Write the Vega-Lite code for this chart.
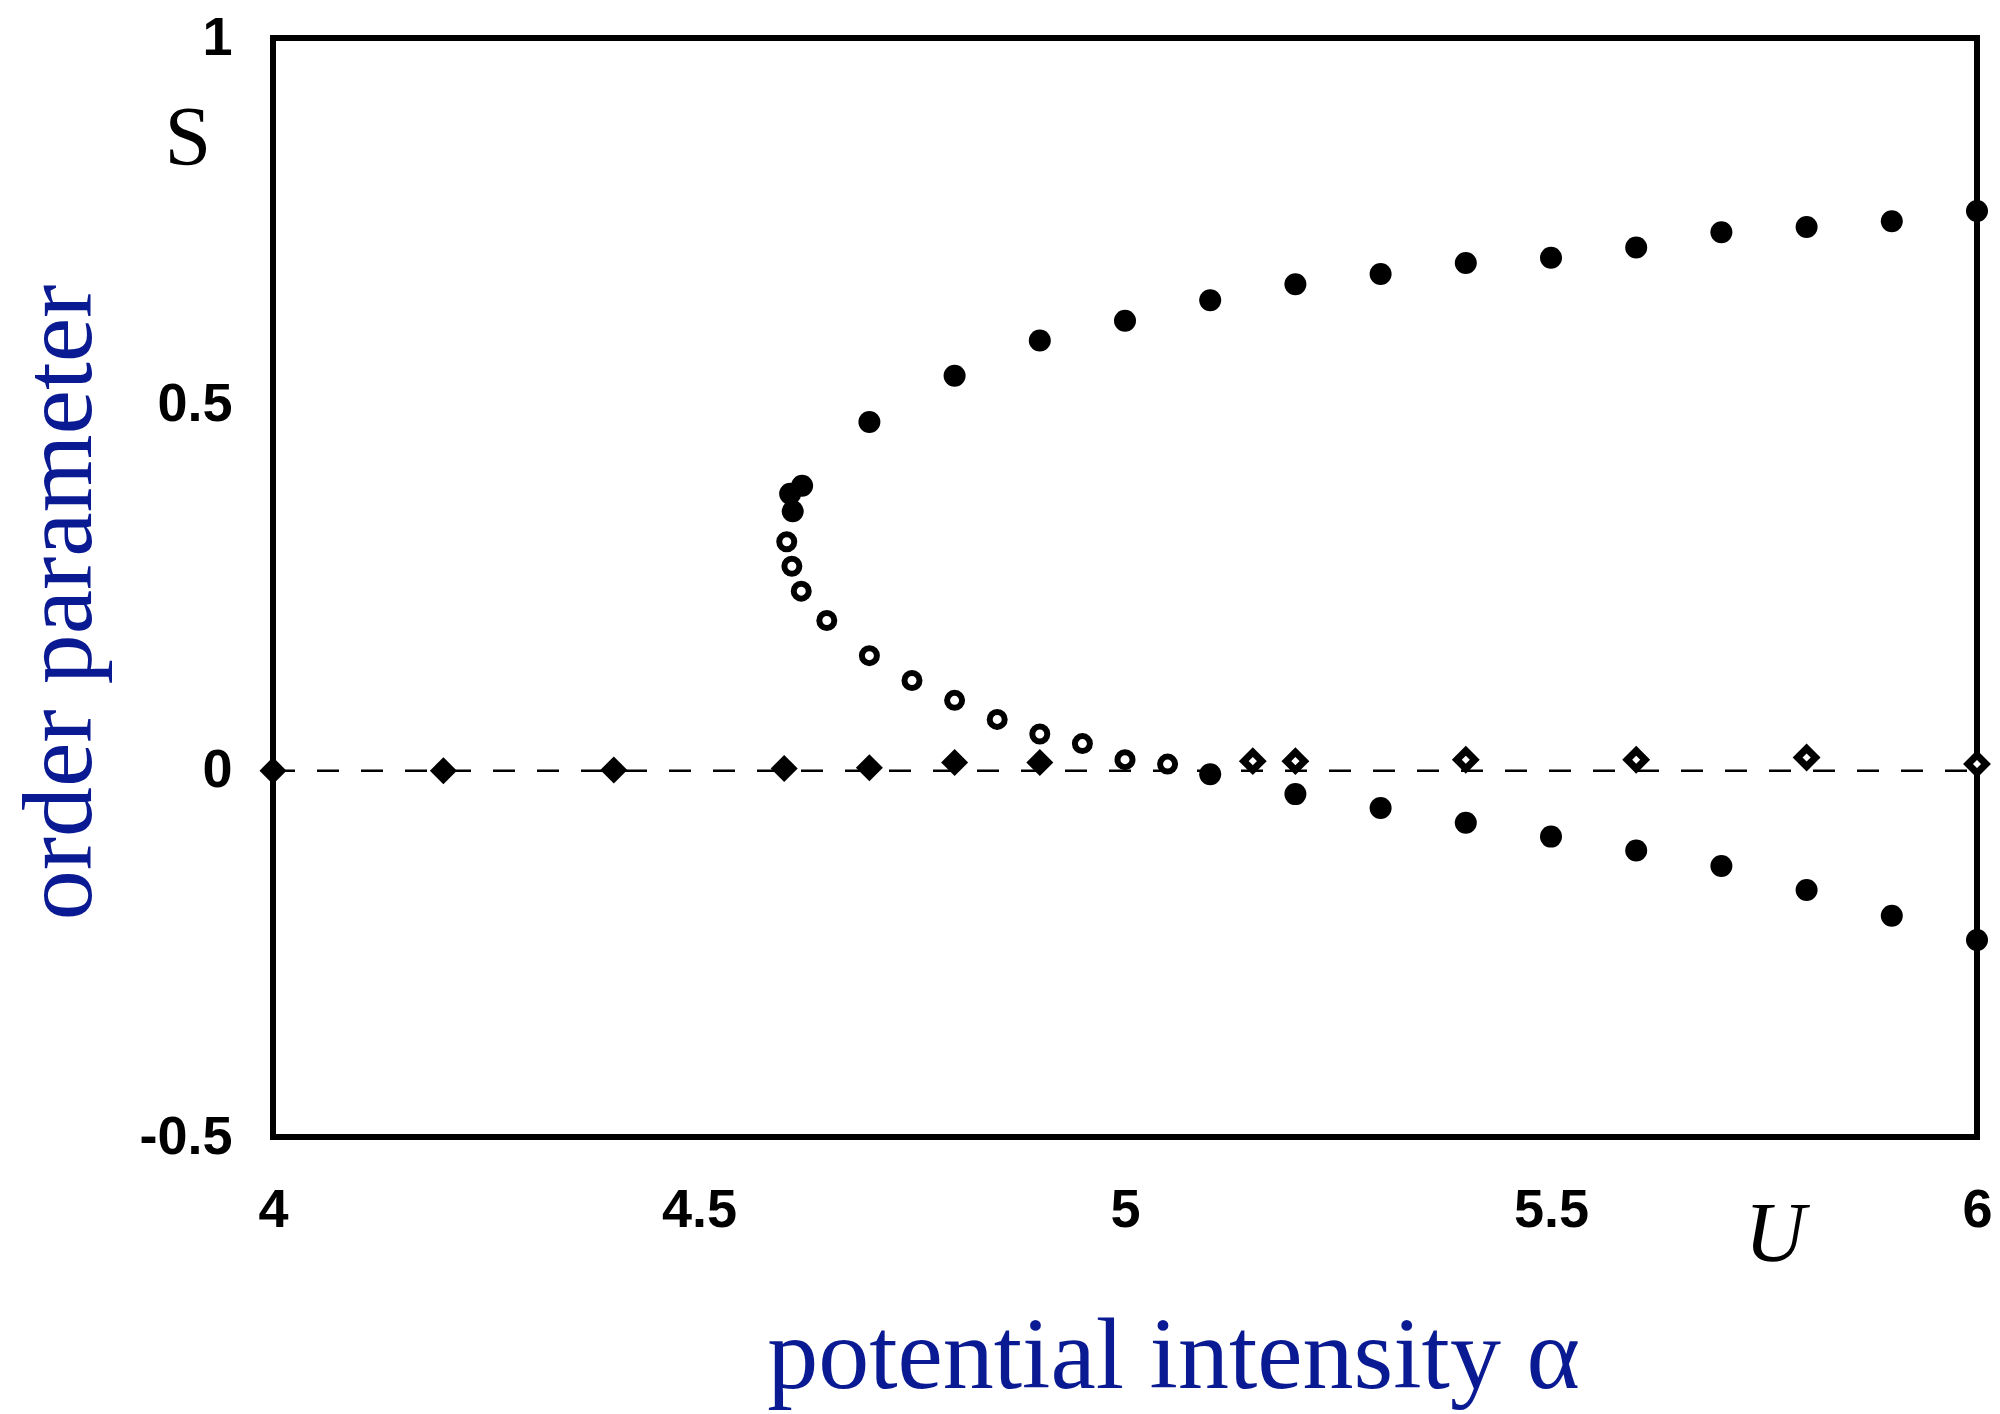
{
  "$schema": "https://vega.github.io/schema/vega-lite/v6.json",
  "width": 1704,
  "height": 1099,
  "autosize": {"type": "none"},
  "padding": {"left": 273, "top": 38, "right": 23, "bottom": 277},
  "background": "white",
  "config": {
    "view": {"stroke": "black", "strokeWidth": 6},
    "axis": {"grid": false, "domain": false, "ticks": false}
  },
  "datasets": {
    "pts": [
      {"x": 4.61, "y": 0.354, "kind": "filled circle"},
      {"x": 4.607, "y": 0.378, "kind": "filled circle"},
      {"x": 4.621, "y": 0.389, "kind": "filled circle"},
      {"x": 4.7, "y": 0.476, "kind": "filled circle"},
      {"x": 4.8, "y": 0.539, "kind": "filled circle"},
      {"x": 4.9, "y": 0.587, "kind": "filled circle"},
      {"x": 5.0, "y": 0.614, "kind": "filled circle"},
      {"x": 5.1, "y": 0.642, "kind": "filled circle"},
      {"x": 5.2, "y": 0.664, "kind": "filled circle"},
      {"x": 5.3, "y": 0.678, "kind": "filled circle"},
      {"x": 5.4, "y": 0.693, "kind": "filled circle"},
      {"x": 5.5, "y": 0.700, "kind": "filled circle"},
      {"x": 5.6, "y": 0.714, "kind": "filled circle"},
      {"x": 5.7, "y": 0.735, "kind": "filled circle"},
      {"x": 5.8, "y": 0.742, "kind": "filled circle"},
      {"x": 5.9, "y": 0.750, "kind": "filled circle"},
      {"x": 6.0, "y": 0.764, "kind": "filled circle"},
      {"x": 5.1, "y": -0.005, "kind": "filled circle"},
      {"x": 5.2, "y": -0.032, "kind": "filled circle"},
      {"x": 5.3, "y": -0.051, "kind": "filled circle"},
      {"x": 5.4, "y": -0.071, "kind": "filled circle"},
      {"x": 5.5, "y": -0.090, "kind": "filled circle"},
      {"x": 5.6, "y": -0.109, "kind": "filled circle"},
      {"x": 5.7, "y": -0.130, "kind": "filled circle"},
      {"x": 5.8, "y": -0.163, "kind": "filled circle"},
      {"x": 5.9, "y": -0.198, "kind": "filled circle"},
      {"x": 6.0, "y": -0.231, "kind": "filled circle"},
      {"x": 4.603, "y": 0.3125, "kind": "open circle"},
      {"x": 4.609, "y": 0.279, "kind": "open circle"},
      {"x": 4.62, "y": 0.245, "kind": "open circle"},
      {"x": 4.65, "y": 0.205, "kind": "open circle"},
      {"x": 4.7, "y": 0.157, "kind": "open circle"},
      {"x": 4.75, "y": 0.123, "kind": "open circle"},
      {"x": 4.8, "y": 0.096, "kind": "open circle"},
      {"x": 4.85, "y": 0.070, "kind": "open circle"},
      {"x": 4.9, "y": 0.050, "kind": "open circle"},
      {"x": 4.95, "y": 0.037, "kind": "open circle"},
      {"x": 5.0, "y": 0.015, "kind": "open circle"},
      {"x": 5.05, "y": 0.009, "kind": "open circle"},
      {"x": 4.0, "y": 0.0, "kind": "filled diamond"},
      {"x": 4.2, "y": 0.0, "kind": "filled diamond"},
      {"x": 4.4, "y": 0.001, "kind": "filled diamond"},
      {"x": 4.6, "y": 0.003, "kind": "filled diamond"},
      {"x": 4.7, "y": 0.004, "kind": "filled diamond"},
      {"x": 4.8, "y": 0.011, "kind": "filled diamond"},
      {"x": 4.9, "y": 0.011, "kind": "filled diamond"},
      {"x": 5.15, "y": 0.013, "kind": "open diamond"},
      {"x": 5.2, "y": 0.013, "kind": "open diamond"},
      {"x": 5.4, "y": 0.015, "kind": "open diamond"},
      {"x": 5.6, "y": 0.015, "kind": "open diamond"},
      {"x": 5.8, "y": 0.018, "kind": "open diamond"},
      {"x": 6.0, "y": 0.009, "kind": "open diamond"}
    ],
    "zero": [
      {"x": 4.0, "y": 0},
      {"x": 6.0, "y": 0}
    ],
    "labelS": [
      {"x": 3.9, "y": 0.861, "text": "S"}
    ],
    "labelU": [
      {"x": 5.763, "y": -0.635, "text": "U"}
    ]
  },
  "layer": [
    {
      "data": {"name": "zero"},
      "mark": {"type": "line", "color": "black", "strokeWidth": 2.5, "strokeDash": [22, 22]},
      "encoding": {
        "x": {
          "field": "x", "type": "quantitative",
          "scale": {"domain": [4, 6], "nice": false, "zero": false},
          "axis": {
            "values": [4, 4.5, 5, 5.5, 6],
            "labelExpr": "replace(format(datum.value, '~g'), '−', '-')",
            "labelFont": "Liberation Sans",
            "labelFontSize": 54,
            "labelFontWeight": "bold",
            "labelColor": "black",
            "labelPadding": 46,
            "labelFlush": false,
            "labelOverlap": false,
            "labelBound": false,
            "title": "potential intensity α",
            "titleFont": "Liberation Serif",
            "titleFontSize": 102,
            "titleFontWeight": "normal",
            "titleColor": "#0a1a92",
            "titleAnchor": "start",
            "titleAlign": "center",
            "titleBaseline": "alphabetic",
            "titleX": 900,
            "titleY": 250
          }
        },
        "y": {
          "field": "y", "type": "quantitative",
          "scale": {"domain": [-0.5, 1], "nice": false, "zero": false},
          "axis": {
            "values": [-0.5, 0, 0.5, 1],
            "labelExpr": "replace(format(datum.value, '~g'), '−', '-')",
            "labelFont": "Liberation Sans",
            "labelFontSize": 54,
            "labelFontWeight": "bold",
            "labelColor": "black",
            "labelPadding": 41,
            "labelFlush": false,
            "labelOverlap": false,
            "labelBound": false,
            "title": "order parameter",
            "titleFont": "Liberation Serif",
            "titleFontSize": 100,
            "titleFontWeight": "normal",
            "titleColor": "#0a1a92",
            "titleAngle": -90,
            "titleAlign": "center",
            "titleBaseline": "alphabetic",
            "titleX": -183,
            "titleY": 564
          }
        }
      }
    },
    {
      "data": {"name": "pts"},
      "transform": [{"filter": "datum.kind == 'filled diamond'"}],
      "mark": {"type": "point", "shape": "diamond", "filled": true, "color": "black", "size": 729, "opacity": 1},
      "encoding": {
        "x": {"field": "x", "type": "quantitative"},
        "y": {"field": "y", "type": "quantitative"}
      }
    },
    {
      "data": {"name": "pts"},
      "transform": [{"filter": "datum.kind == 'open diamond'"}],
      "mark": {"type": "point", "shape": "diamond", "filled": true, "fill": "white", "stroke": "black", "strokeWidth": 7, "size": 324, "opacity": 1},
      "encoding": {
        "x": {"field": "x", "type": "quantitative"},
        "y": {"field": "y", "type": "quantitative"}
      }
    },
    {
      "data": {"name": "pts"},
      "transform": [{"filter": "datum.kind == 'open circle'"}],
      "mark": {"type": "point", "shape": "circle", "filled": true, "fill": "white", "stroke": "black", "strokeWidth": 6, "size": 225, "opacity": 1},
      "encoding": {
        "x": {"field": "x", "type": "quantitative"},
        "y": {"field": "y", "type": "quantitative"}
      }
    },
    {
      "data": {"name": "pts"},
      "transform": [{"filter": "datum.kind == 'filled circle'"}],
      "mark": {"type": "point", "shape": "circle", "filled": true, "color": "black", "size": 484, "opacity": 1},
      "encoding": {
        "x": {"field": "x", "type": "quantitative"},
        "y": {"field": "y", "type": "quantitative"}
      }
    },
    {
      "data": {"name": "labelS"},
      "mark": {"type": "text", "font": "Liberation Serif", "fontSize": 84, "color": "black", "align": "center", "baseline": "middle"},
      "encoding": {
        "x": {"field": "x", "type": "quantitative"},
        "y": {"field": "y", "type": "quantitative"},
        "text": {"field": "text"}
      }
    },
    {
      "data": {"name": "labelU"},
      "mark": {"type": "text", "font": "Times New Roman, Liberation Serif, serif", "fontSize": 84, "fontStyle": "italic", "color": "black", "align": "center", "baseline": "middle"},
      "encoding": {
        "x": {"field": "x", "type": "quantitative"},
        "y": {"field": "y", "type": "quantitative"},
        "text": {"field": "text"}
      }
    }
  ]
}
